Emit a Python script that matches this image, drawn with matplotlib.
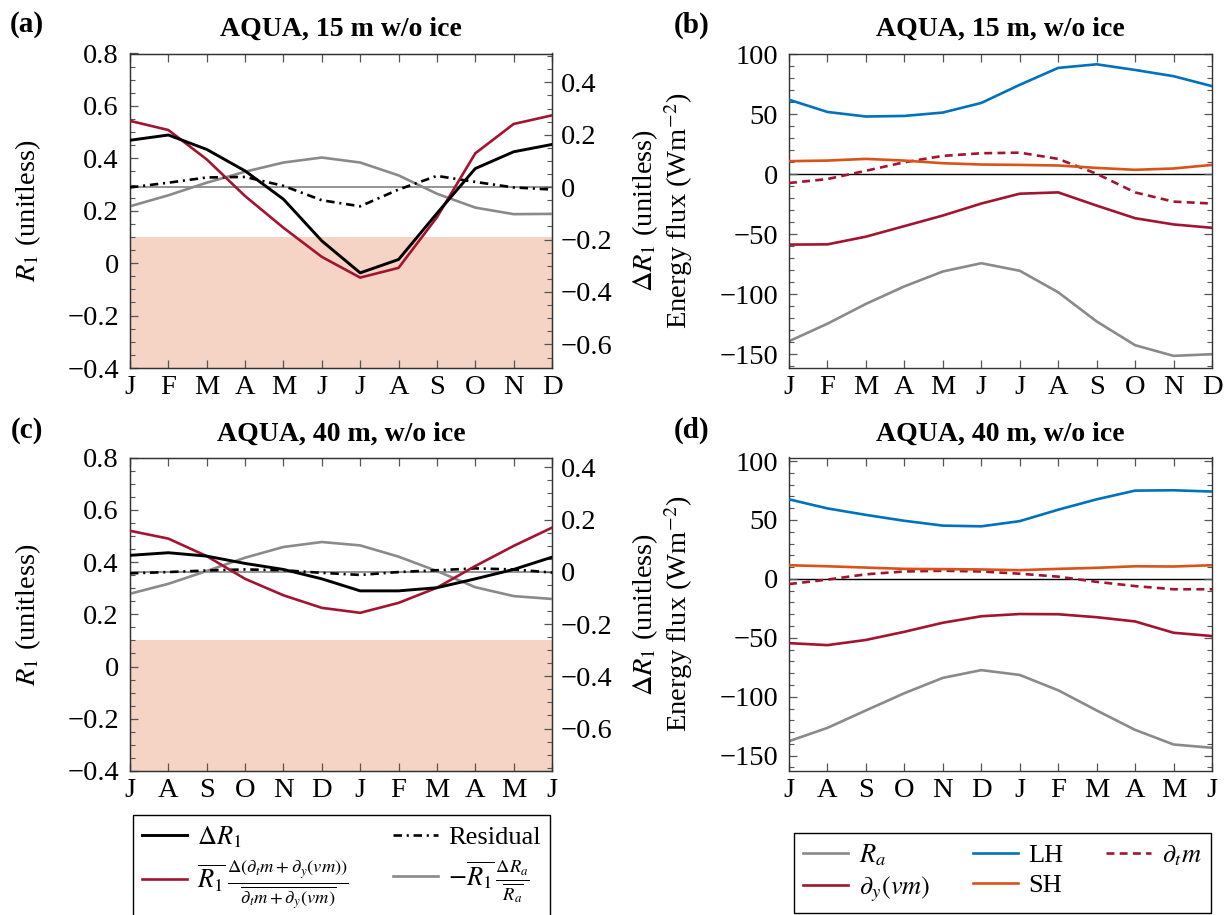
import matplotlib
matplotlib.use("Agg")
import matplotlib.pyplot as plt
from matplotlib.ticker import MultipleLocator, FuncFormatter
from matplotlib.lines import Line2D

plt.rcParams["font.family"] = ["Liberation Serif", "DejaVu Serif"]
plt.rcParams["mathtext.fontset"] = "stix"

# ---------------------------------------------------------------- data
months_15 = ["J", "F", "M", "A", "M", "J", "J", "A", "S", "O", "N", "D"]
months_40 = ["J", "A", "S", "O", "N", "D", "J", "F", "M", "A", "M", "J"]

# Annual-mean R1 (right-axis zero sits at this R1 value)
r1_mean_15 = 0.29
r1_mean_40 = 0.3625

# R1 anomaly decomposition, 15 m slab
dR1_15 = [0.179, 0.199, 0.144, 0.062, -0.046, -0.205, -0.327, -0.276, -0.100, 0.071, 0.135, 0.163]
flux_term_15 = [0.253, 0.218, 0.106, -0.034, -0.155, -0.266, -0.345, -0.308, -0.115, 0.129, 0.241, 0.274]
ra_term_15 = [-0.073, -0.031, 0.017, 0.059, 0.094, 0.113, 0.094, 0.045, -0.025, -0.078, -0.103, -0.102]
resid_15 = [-0.001, 0.017, 0.037, 0.039, 0.005, -0.050, -0.073, -0.009, 0.043, 0.020, -0.001, -0.009]

# R1 anomaly decomposition, 40 m slab
dR1_40 = [0.063, 0.073, 0.060, 0.032, 0.009, -0.027, -0.073, -0.073, -0.061, -0.027, 0.009, 0.056]
flux_term_40 = [0.157, 0.127, 0.060, -0.027, -0.090, -0.138, -0.157, -0.119, -0.061, 0.022, 0.099, 0.169]
ra_term_40 = [-0.084, -0.046, 0.003, 0.054, 0.095, 0.114, 0.101, 0.058, 0.003, -0.059, -0.093, -0.104]
resid_40 = [-0.006, -0.001, 0.005, 0.009, 0.006, -0.004, -0.012, -0.001, 0.006, 0.013, 0.009, -0.003]

# Energy fluxes (W m^-2), 15 m slab
Ra_15 = [-139.2, -124.6, -108.1, -93.5, -81.1, -74.2, -80.5, -98.4, -122.7, -142.5, -151.4, -150.0]
LH_15 = [62.0, 51.8, 48.0, 48.5, 51.3, 59.3, 74.4, 88.5, 91.5, 86.8, 81.6, 73.3]
SH_15 = [10.8, 11.3, 12.7, 11.3, 9.1, 8.0, 7.7, 7.2, 5.2, 3.6, 4.7, 7.7]
dym_15 = [-58.7, -58.5, -52.1, -43.3, -34.5, -24.5, -16.3, -15.2, -26.2, -36.7, -41.9, -44.7]
dtm_15 = [-7.4, -4.1, 2.8, 9.9, 15.2, 17.4, 17.9, 12.7, 0.3, -15.2, -22.9, -24.5]

# Energy fluxes (W m^-2), 40 m slab
Ra_40 = [-137.7, -126.4, -111.6, -97.0, -84.0, -77.4, -81.5, -94.5, -111.6, -128.1, -140.5, -143.3]
LH_40 = [67.5, 59.8, 54.3, 49.3, 45.2, 44.6, 49.0, 58.7, 67.5, 74.9, 75.2, 74.1]
SH_40 = [11.6, 10.7, 9.6, 8.5, 8.3, 8.0, 7.4, 8.5, 9.4, 10.7, 10.5, 11.6]
dym_40 = [-54.5, -56.2, -51.8, -44.9, -37.2, -31.7, -29.8, -30.0, -32.5, -36.1, -45.7, -48.5]
dtm_40 = [-4.4, -0.6, 3.9, 6.3, 6.9, 6.3, 4.4, 1.9, -2.5, -6.1, -8.8, -8.8]

# ---------------------------------------------------------------- style
C_RED = "#A2142F"
C_BLUE = "#0072BD"
C_ORANGE = "#D95319"
C_GRAY = "#8a8a8a"
C_SHADE = "#F5D3C5"
TICK_C = "#555555"
SPINE_C = "#333333"

FS_TICK = 20.5
FS_LAB = 20.5
FS_TITLE = 20
FS_LEG = 19

DASHDOT = (0, (3.2, 1.8, 0.8, 1.8))
DASHED = (0, (3.0, 2.0))


def fmt(v, pos):
    v = round(v, 6)
    s = f"{v:g}"
    if s == "-0":
        s = "0"
    return s.replace("-", "\u2212")


W, H = 1229, 915
fig = plt.figure(figsize=(W / 100, H / 100), dpi=100)


def fig_rect(x0, x1, y0, y1):
    return [x0 / W, 1 - y1 / H, (x1 - x0) / W, (y1 - y0) / H]


def style_axis(ax, months, right=True):
    ax.set_xlim(0, 11)
    ax.set_xticks(range(12))
    ax.set_xticklabels(months)
    ax.tick_params(axis="both", which="both", direction="in", colors=TICK_C,
                   labelcolor="black", labelsize=FS_TICK, top=True, right=right)
    ax.tick_params(which="major", length=6, width=0.9)
    ax.tick_params(which="minor", length=3.5, width=0.8)
    ax.tick_params(axis="x", which="minor", bottom=False, top=False)
    ax.tick_params(axis="x", pad=5)
    ax.tick_params(axis="y", pad=8)
    ax.yaxis.set_major_formatter(FuncFormatter(fmt))
    for s in ax.spines.values():
        s.set_color(SPINE_C)
        s.set_linewidth(1.0)


def r1_panel(rect, months, mean, dR1, flux, ra, resid):
    ax = fig.add_axes(rect)
    ax.set_ylim(-0.4, 0.8)
    ax.axhspan(-0.4, 0.1, color=C_SHADE, lw=0, zorder=0)
    ax.yaxis.set_major_locator(MultipleLocator(0.2))
    ax.yaxis.set_minor_locator(MultipleLocator(0.05))
    style_axis(ax, months, right=False)
    ax.set_ylabel(r"$R_1$ (unitless)", fontsize=FS_LAB)
    ax.yaxis.set_label_coords(-0.205, 0.5)

    ax2 = ax.twinx()
    ax2.set_ylim(-0.4 - mean, 0.8 - mean)
    ax2.yaxis.set_major_locator(MultipleLocator(0.2))
    ax2.yaxis.set_minor_locator(MultipleLocator(0.05))
    ax2.tick_params(axis="y", which="both", direction="in", colors=TICK_C,
                    labelcolor="black", labelsize=FS_TICK, pad=6.5)
    ax2.tick_params(which="major", length=6, width=0.9)
    ax2.tick_params(which="minor", length=3.5, width=0.8)
    ax2.yaxis.set_major_formatter(FuncFormatter(fmt))
    for s in ax2.spines.values():
        s.set_color(SPINE_C)

    x = range(len(months))
    ax2.axhline(0, color="#777777", lw=1.1, zorder=1)
    ax2.plot(x, ra, color=C_GRAY, lw=1.9, zorder=2)
    ax2.plot(x, resid, color="black", lw=1.9, ls=DASHDOT, zorder=3)
    ax2.plot(x, flux, color=C_RED, lw=1.9, zorder=4)
    ax2.plot(x, dR1, color="black", lw=2.1, zorder=5)
    return ax, ax2


def flux_panel(rect, months, ylim, Ra, LH, SH, dym, dtm):
    ax = fig.add_axes(rect)
    ax.set_ylim(*ylim)
    ax.yaxis.set_major_locator(MultipleLocator(50))
    ax.yaxis.set_minor_locator(MultipleLocator(10))
    style_axis(ax, months, right=True)
    x = range(len(months))
    ax.axhline(0, color="black", lw=1.0, zorder=1)
    ax.plot(x, Ra, color=C_GRAY, lw=1.9, zorder=2)
    ax.plot(x, dym, color=C_RED, lw=1.9, zorder=3)
    ax.plot(x, dtm, color=C_RED, lw=1.9, ls=DASHED, zorder=3)
    ax.plot(x, SH, color=C_ORANGE, lw=1.9, zorder=4)
    ax.plot(x, LH, color=C_BLUE, lw=1.9, zorder=5)
    ax.set_ylabel("$\\Delta R_1$ (unitless)\nEnergy flux (Wm$^{-2}$)",
                  fontsize=FS_LAB, linespacing=1.1)
    ax.yaxis.set_label_coords(-0.222, 0.5)
    return ax


r1_panel(fig_rect(130, 552, 53.5, 368), months_15, r1_mean_15,
         dR1_15, flux_term_15, ra_term_15, resid_15)
flux_panel(fig_rect(789, 1212, 53.5, 368), months_15, (-161.5, 100.5),
           Ra_15, LH_15, SH_15, dym_15, dtm_15)
r1_panel(fig_rect(130, 552, 457.5, 771), months_40, r1_mean_40,
         dR1_40, flux_term_40, ra_term_40, resid_40)
flux_panel(fig_rect(789, 1212, 457.5, 771), months_40, (-163, 103),
           Ra_40, LH_40, SH_40, dym_40, dtm_40)

# titles and panel letters
for cx, cy, txt in [(341, 29, "AQUA, 15 m w/o ice"),
                    (1000.5, 29, "AQUA, 15 m, w/o ice"),
                    (341, 434, "AQUA, 40 m, w/o ice"),
                    (1000.5, 434, "AQUA, 40 m, w/o ice")]:
    fig.text(cx / W, 1 - cy / H, txt, ha="center", va="center",
             fontsize=FS_TITLE, fontweight="bold")
for cx, cy, txt in [(27, 25, "(a)"), (692, 25, "(b)"),
                    (27, 430, "(c)"), (692, 430, "(d)")]:
    fig.text(cx / W, 1 - cy / H, txt, ha="center", va="center",
             fontsize=21, fontweight="bold")

# legends
left_handles = [
    Line2D([], [], color="black", lw=2.1),
    Line2D([], [], color=C_RED, lw=1.9),
    Line2D([], [], color="black", lw=1.9, ls=DASHDOT),
    Line2D([], [], color=C_GRAY, lw=1.9),
]
left_labels = [
    r"$\Delta R_1$",
    r"$\overline{R_1}\,\frac{\Delta(\partial_t m+\partial_y(vm))}{\overline{\partial_t m+\partial_y(vm)}}$",
    "Residual",
    r"$-\overline{R_1}\,\frac{\Delta R_a}{\overline{R_a}}$",
]
x0, x1, y0, y1 = 132.7, 550, 815, 914
leg1 = fig.legend(left_handles, left_labels, ncol=2, mode="expand",
                  loc="upper left", borderaxespad=0,
                  bbox_to_anchor=(x0 / W, 1 - y1 / H, (x1 - x0) / W, (y1 - y0) / H),
                  fontsize=FS_LEG, frameon=True, fancybox=False,
                  edgecolor="black", framealpha=1, handlelength=1.7,
                  handletextpad=0.4, labelspacing=0.35, borderpad=0.35)
leg1.get_frame().set_linewidth(1.0)

right_handles = [
    Line2D([], [], color=C_GRAY, lw=1.9),
    Line2D([], [], color=C_RED, lw=1.9),
    Line2D([], [], color=C_BLUE, lw=1.9),
    Line2D([], [], color=C_ORANGE, lw=1.9),
    Line2D([], [], color=C_RED, lw=1.9, ls=DASHED),
]
right_labels = [r"$R_a$", r"$\partial_y(vm)$", "LH", "SH", r"$\partial_t m$"]
x0, x1, y0, y1 = 794, 1210.7, 833, 910.7
leg2 = fig.legend(right_handles, right_labels, ncol=3, mode="expand",
                  loc="upper left", borderaxespad=0,
                  bbox_to_anchor=(x0 / W, 1 - y1 / H, (x1 - x0) / W, (y1 - y0) / H),
                  fontsize=FS_LEG, frameon=True, fancybox=False,
                  edgecolor="black", framealpha=1, handlelength=1.7,
                  handletextpad=0.4, labelspacing=0.25, borderpad=0.35)
leg2.get_frame().set_linewidth(1.0)

fig.savefig("out.png", dpi=100)
